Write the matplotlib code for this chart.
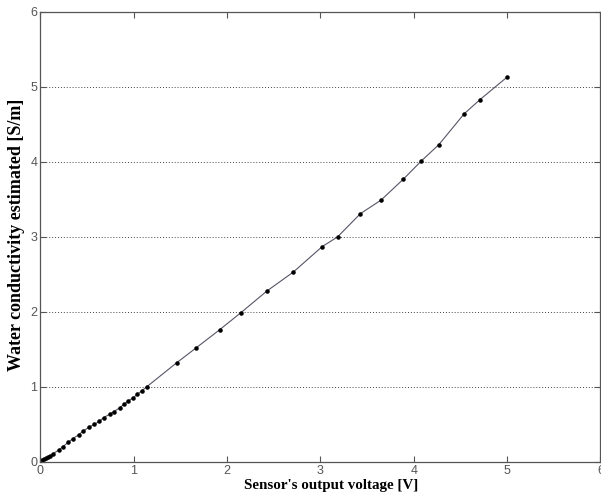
import matplotlib
matplotlib.use('Agg')
import matplotlib.pyplot as plt

# sensor output voltage [V] vs estimated conductivity [S/m]
volt = [0.02, 0.04, 0.06, 0.08, 0.10, 0.14, 0.20, 0.24, 0.30, 0.35,
        0.41, 0.46, 0.52, 0.58, 0.63, 0.68, 0.75, 0.79, 0.85, 0.90,
        0.94, 0.99, 1.04, 1.09, 1.14, 1.46, 1.67, 1.92, 2.15, 2.43,
        2.71, 3.02, 3.185, 3.43, 3.65, 3.89, 4.08, 4.27, 4.54, 4.71, 5.0]
cond = [0.02, 0.035, 0.05, 0.065, 0.08, 0.11, 0.16, 0.20, 0.26, 0.31,
        0.36, 0.41, 0.46, 0.50, 0.54, 0.59, 0.64, 0.67, 0.72, 0.77,
        0.81, 0.85, 0.90, 0.95, 1.00, 1.32, 1.52, 1.76, 1.99, 2.28,
        2.53, 2.87, 3.0, 3.31, 3.49, 3.77, 4.01, 4.23, 4.64, 4.83, 5.13]

fig = plt.figure(figsize=(6.01, 4.95), dpi=100)
ax = fig.add_axes([0.067, 0.067, 0.932, 0.909])

ax.plot(volt, cond, '-', color='#555566', lw=0.8)
ax.plot(volt, cond, '.', color='black', ms=4.5)

ax.set_xlim(0, 6)
ax.set_ylim(0, 6)
ax.set_xticks(range(7))
ax.set_yticks(range(7))
ax.yaxis.grid(True, linestyle=(0, (1, 2)), color='#444444', lw=0.7)

for s in ax.spines.values():
    s.set_color('#555555')
    s.set_linewidth(0.9)
ax.tick_params(direction='in', top=True, right=True, labelsize=9,
               labelcolor='#555555', color='#555555', length=4, pad=2)
for lab in ax.get_xticklabels() + ax.get_yticklabels():
    lab.set_family('Liberation Sans')

ax.set_xlabel("Sensor's output voltage [V]", family='Liberation Serif',
              weight='bold', size=10.8)
ax.xaxis.set_label_coords(0.519, -0.039, transform=ax.transAxes)
ax.xaxis.label.set_va('top')
ax.set_ylabel('Water conductivity estimated [S/m]', family='Liberation Serif',
              weight='bold', size=13)
ax.yaxis.set_label_coords(-0.027, 0.505, transform=ax.transAxes)

fig.savefig('out.png', dpi=100)
